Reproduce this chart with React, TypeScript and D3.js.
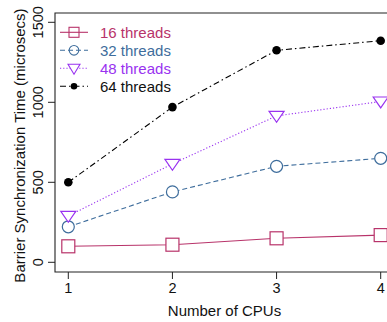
import React from "react";
import * as d3 from "d3";

const cpus = [1, 2, 3, 4];
const threads16 = [100, 110, 150, 170];
const threads32 = [222, 440, 600, 650];
const threads48 = [290, 615, 915, 1005];
const threads64 = [500, 970, 1325, 1385];
const yTicks = [0, 500, 1000, 1500];
const seriesNames = ["16 threads", "32 threads", "48 threads", "64 threads"];

const W = 387;
const H = 322;

type Series = {
  name: string;
  values: number[];
  color: string;
  dash: string;
  marker: "square" | "circle" | "triangle" | "dot";
};

const series: Series[] = [
  { name: seriesNames[0], values: threads16, color: "#b8336a", dash: "", marker: "square" },
  { name: seriesNames[1], values: threads32, color: "#3e6d9c", dash: "5,3", marker: "circle" },
  { name: seriesNames[2], values: threads48, color: "#9932f0", dash: "1.2,2", marker: "triangle" },
  { name: seriesNames[3], values: threads64, color: "#000000", dash: "6,3,1.5,3", marker: "dot" },
];

function Marker({ kind, x, y, color }: { kind: Series["marker"]; x: number; y: number; color: string }) {
  if (kind === "square") {
    return <rect x={x - 6.5} y={y - 6.5} width={13} height={13} fill="white" stroke={color} strokeWidth={1.2} />;
  }
  if (kind === "circle") {
    return <circle cx={x} cy={y} r={6} fill="white" stroke={color} strokeWidth={1.2} />;
  }
  if (kind === "triangle") {
    const s = 7.5;
    const p = `${x - s},${y - s * 0.6} ${x + s},${y - s * 0.6} ${x},${y + s * 0.85}`;
    return <polygon points={p} fill="white" stroke={color} strokeWidth={1.2} />;
  }
  return <circle cx={x} cy={y} r={4.3} fill={color} />;
}

export default function App() {
  const left = 55;
  const top = 13;
  const bottom = 272;
  const x = d3.scaleLinear().domain([1, 4]).range([68.3, 380.7]);
  const y = d3.scaleLinear().domain([0, 1500]).range([262.3, 22.3]);
  const line = d3
    .line<number>()
    .x((_, i) => x(cpus[i]))
    .y((v) => y(v));
  const font = "'Liberation Sans', Arial, Helvetica, sans-serif";

  return (
    <svg
      width={W}
      height={H}
      style={{ position: "absolute", left: 0, top: 0, background: "white" }}
      fontFamily={font}
    >
      <rect x={0} y={0} width={W} height={H} fill="white" />
      {/* plot frame (extends past the right edge) */}
      <path d={`M${W + 5},${top}H${left}V${bottom}H${W + 5}`} fill="none" stroke="#222" strokeWidth={1.1} />

      {/* y axis ticks and labels */}
      {yTicks.map((t) => (
        <g key={t}>
          <line x1={left - 7} x2={left} y1={y(t)} y2={y(t)} stroke="#222" strokeWidth={1} />
          <text
            transform={`translate(${38},${y(t)}) rotate(-90)`}
            textAnchor="middle"
            fontSize={14.5}
            fill="#111"
            dominantBaseline="central"
          >
            {t}
          </text>
        </g>
      ))}
      <text
        transform={`translate(19,${(top + bottom) / 2 + 3}) rotate(-90)`}
        textAnchor="middle"
        fontSize={15}
        fill="#111"
        dominantBaseline="central"
      >
        Barrier Synchronization Time (microsecs)
      </text>

      {/* x axis ticks and labels */}
      {cpus.map((c) => (
        <g key={c}>
          <line x1={x(c)} x2={x(c)} y1={bottom} y2={bottom + 7} stroke="#222" strokeWidth={1} />
          <text x={x(c)} y={288} textAnchor="middle" fontSize={14.5} fill="#111" dominantBaseline="central">
            {c}
          </text>
        </g>
      ))}
      <text x={(x(1) + x(4)) / 2} y={310} textAnchor="middle" fontSize={15} fill="#111" dominantBaseline="central">
        Number of CPUs
      </text>

      {/* series */}
      {series.map((s) => (
        <g key={s.name}>
          <path d={line(s.values) || ""} fill="none" stroke={s.color} strokeWidth={1.1} strokeDasharray={s.dash} />
          {s.values.map((v, i) => (
            <Marker key={i} kind={s.marker} x={x(cpus[i])} y={y(v)} color={s.color} />
          ))}
        </g>
      ))}

      {/* legend */}
      {series.map((s, i) => {
        const ly = 32.3 + i * 18;
        return (
          <g key={s.name}>
            <line x1={60} x2={88} y1={ly} y2={ly} stroke={s.color} strokeWidth={1.1} strokeDasharray={s.dash} />
            {s.marker === "square" ? (
              <rect x={74 - 5} y={ly - 5} width={10} height={10} fill="none" stroke={s.color} strokeWidth={1.1} />
            ) : s.marker === "circle" ? (
              <circle cx={74} cy={ly} r={4.8} fill="none" stroke={s.color} strokeWidth={1.1} />
            ) : s.marker === "triangle" ? (
              <polygon
                points={`${68},${ly - 4} ${80},${ly - 4} ${74},${ly + 6}`}
                fill="white"
                stroke={s.color}
                strokeWidth={1.1}
              />
            ) : (
              <circle cx={74} cy={ly} r={3.3} fill={s.color} />
            )}
            <text x={100} y={ly} fontSize={15} fill={s.color === "#000000" ? "#111" : s.color} dominantBaseline="central">
              {s.name}
            </text>
          </g>
        );
      })}
    </svg>
  );
}
